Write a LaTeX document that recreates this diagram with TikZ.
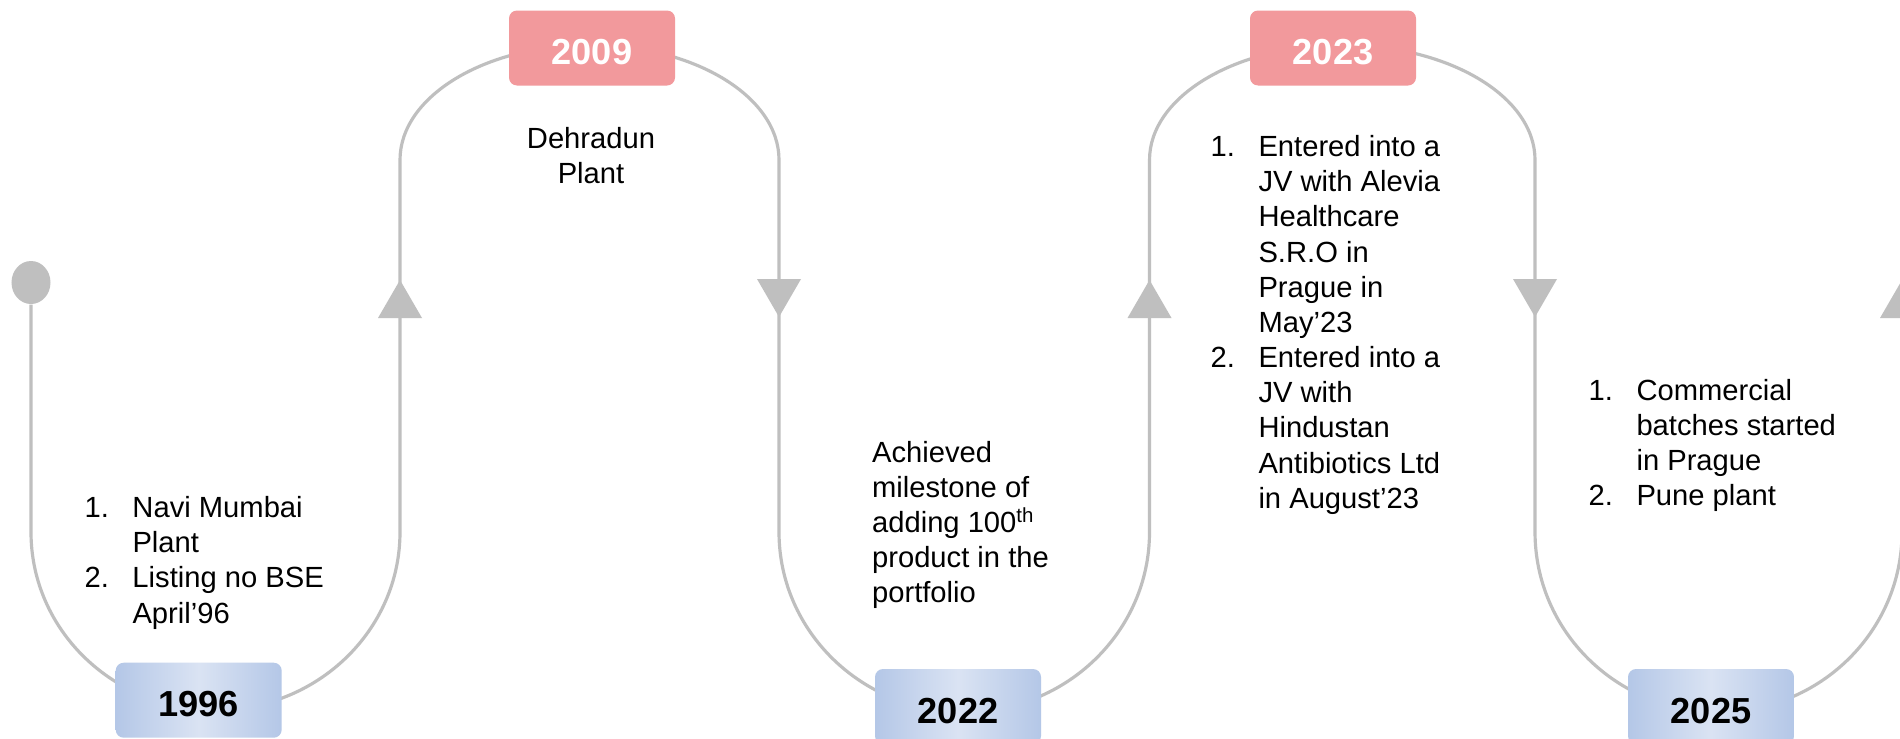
\documentclass[tikz,border=0pt]{standalone}
\usepackage{fontspec}
\setmainfont{Liberation Sans}
\usetikzlibrary{calc}
\usetikzlibrary{shapes.geometric}

\definecolor{snakegray}{RGB}{191,191,191}
\definecolor{yearred}{RGB}{242,153,156}
\definecolor{yearblue}{RGB}{180,199,231}
\definecolor{yearpale}{RGB}{218,227,243}

\newcommand{\storyfont}{\fontsize{8.3}{10}\selectfont}
\newcommand{\yearfont}{\fontsize{10.3}{12}\selectfont\bfseries}
\newcommand{\steplist}[1]{\begin{tabular}[t]{@{}p{13.6pt}@{}l@{}}#1\end{tabular}}
\newcommand{\stepblock}[2][l]{\begin{tabular}[t]{@{}#1@{}}#2\end{tabular}}

\tikzset{
  snake/.style={snakegray, line width=0.9pt},
  yearbox/.style={rounded corners=0.08cm, minimum width=1.66cm, minimum height=0.75cm, inner sep=0pt,
    text height=0.33cm, text depth=0pt, font=\yearfont},
  redyear/.style={yearbox, fill=yearred, text=white},
  blueyear/.style={yearbox, left color=yearblue, right color=yearblue, middle color=yearpale, text=black},
  story/.style={inner sep=0pt, font=\storyfont, anchor=base west},
}

\begin{document}
\begin{tikzpicture}
\useasboundingbox (0,0) rectangle (19,7.38);
\fill[white] (0,0) rectangle (19,7.38);
\node[ellipse, fill=snakegray, minimum width=0.39cm, minimum height=0.43cm, inner sep=0pt] (start) at (0.31,4.555) {};
% the winding line
\draw[snake] (start.south) -- (0.31,2.06)
  arc[start angle=180, end angle=360, x radius=1.845, y radius=1.78] -- (4.00,5.78)
  arc[start angle=180, end angle=0, x radius=1.895, y radius=1.15] -- (7.79,2.06)
  arc[start angle=180, end angle=360, x radius=1.8525, y radius=1.8] -- (11.495,5.78)
  arc[start angle=180, end angle=0, x radius=1.9275, y radius=1.15] -- (15.35,2.06)
  arc[start angle=180, end angle=360, x radius=1.835, y radius=1.8] -- (19.02,5.78)
  arc[start angle=180, end angle=90, x radius=1.9, y radius=1.15];
\foreach \x in {4.00,11.495,19.02}
  \fill[snakegray] (\x-0.22,4.20) -- (\x,4.58) -- (\x+0.22,4.20) -- cycle;
\foreach \x in {7.79,15.35}
  \fill[snakegray] (\x-0.22,4.59) -- (\x,4.21) -- (\x+0.22,4.59) -- cycle;
% years
\node[blueyear] (y1996) at (1.987,0.378) {1996};
\node[redyear] (y2009) at (5.92,6.90) {2009};
\node[blueyear] (y2022) at (9.58,0.315) {2022};
\node[redyear] (y2023) at (13.33,6.90) {2023};
\node[blueyear] (y2025) at (17.11,0.315) {2025};
% what happened
\node[story] (t1996) at (0.84,2.204) {\steplist{1. & Navi Mumbai\\ & Plant\\ 2. & Listing no BSE\\ & April’96}};
\node[story, anchor=base] (t2009) at (5.91,5.90) {\stepblock[c]{Dehradun\\Plant}};
\node[story] (t2022) at (8.714,2.76) {\stepblock{Achieved\\milestone of\\adding 100\textsuperscript{th}\\product in the\\portfolio}};
\node[story] (t2023) at (12.10,5.813) {\steplist{1. & Entered into a\\ & JV with Alevia\\ & Healthcare\\ & S.R.O in\\ & Prague in\\ & May’23\\ 2. & Entered into a\\ & JV with\\ & Hindustan\\ & Antibiotics Ltd\\ & in August’23}};
\node[story] (t2025) at (15.88,3.38) {\steplist{1. & Commercial\\ & batches started\\ & in Prague\\ 2. & Pune plant}};
\end{tikzpicture}
\end{document}
